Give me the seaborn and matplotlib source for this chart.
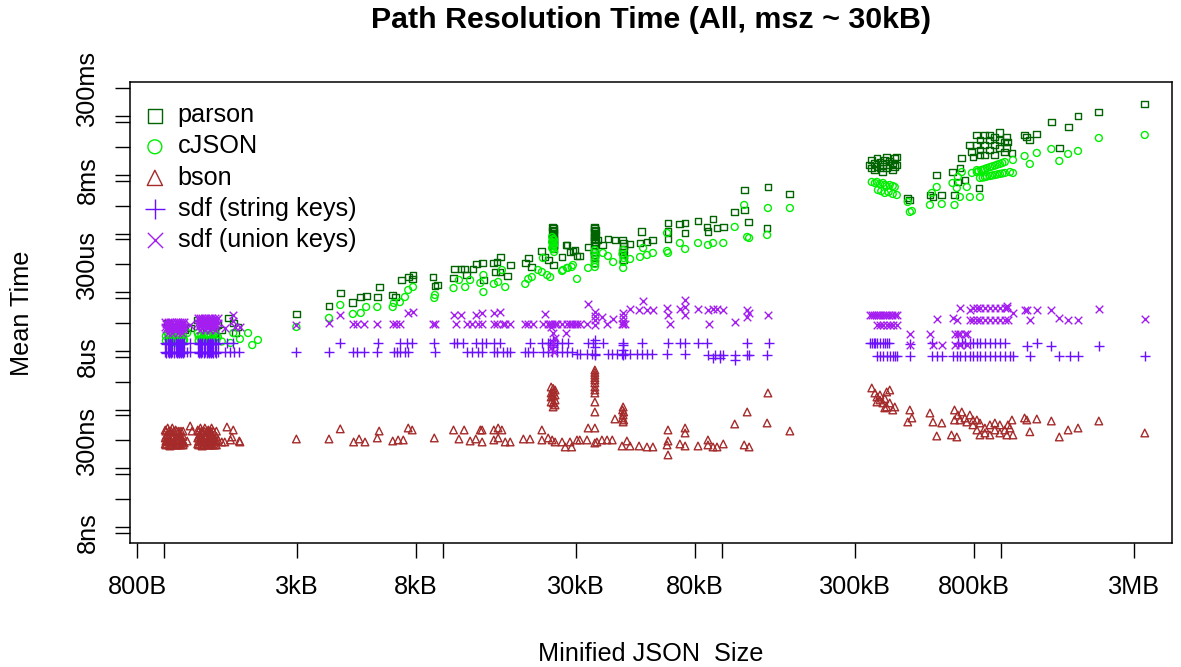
import matplotlib
matplotlib.use("Agg")
import matplotlib.pyplot as plt
import seaborn as sns

# %% Data (size in kB, mean time in microseconds)
parson_kb = [1.03, 1.07, 1.10, 1.14, 1.16, 1.18, 1.21, 1.24, 1.32, 1.37, 1.42, 1.46, 1.52, 1.56, 1.61, 1.70, 1.77, 1.84, 1.80,
             2.98, 3.90, 4.28, 4.75, 5.07, 5.3, 5.81, 5.9, 6.6, 6.77, 7.1, 7.5, 7.75, 7.8, 9.2, 9.35, 9.53,
             10.9, 11.0, 11.6, 11.9, 12.1, 12.8, 13.2, 13.8, 13.95, 15.2, 15.45, 15.6, 16.0, 16.1, 17.0, 17.4,
             19.7, 20.3, 20.8, 22.6, 23.2, 23.8,
             24.6, 24.8, 25.0, 24.6, 24.8, 25.0, 24.6, 24.8, 25.0, 24.8, 24.6, 25.0, 24.8, 24.8, 24.8,
             26.7, 27.6, 27.8, 28.5, 29.2, 29.7, 30.2, 30.9, 33.1,
             34.8, 35.0, 35.2, 34.8, 35.0, 35.2, 35.0, 34.8, 35.0, 35.2, 35.0, 35.0, 35.0, 35.0, 35.0, 35.0,
             35.9, 37.4, 39.0, 41.3, 44.0, 44.2, 44.4, 44.2, 44.0, 44.4, 44.2,
             46.8, 50.8, 51.6, 53.8, 56.5, 64.0, 64.0, 64.0, 70.6, 73.7, 73.7, 82.0, 88.3, 89.0, 92.8, 95.9, 101,
             111, 120, 124, 145, 120, 146, 175,
             338, 344, 344, 353, 353, 359, 359, 368, 368, 377, 377, 383, 389, 389, 399, 399, 409, 409, 416, 416, 423, 423,
             463, 471, 556, 570, 588, 613, 670, 681, 700, 712, 723, 742, 773, 786, 793,
             819, 819, 840, 840, 875, 875, 875, 912, 912, 950, 950, 950, 990, 990, 1031, 1031, 1049, 1049, 840, 912, 990,
             833, 1058, 1094, 1214, 1237, 1268, 1343, 1514, 1617, 1739, 1887, 2241, 3274]
parson_us = [30.0, 24.6, 20.2, 27.7, 27.7, 22.8, 25.6, 24.6, 33.7, 28.8, 24.6, 30.0, 20.2, 27.7, 22.8, 36.5, 30.0, 25.6, 20.2,
             42.7, 58.4, 97, 68, 83, 86.5, 83, 123, 90, 83, 162, 182, 169, 197, 182, 128, 133,
             175, 250, 250, 250, 197, 250, 304, 316, 162, 316, 222, 328, 222, 400, 190, 292,
             316, 384, 270, 506, 400, 355,
             1300, 1250, 1150, 1070, 1025, 948, 876, 810, 779, 720, 692, 640, 615, 547, 292,
             400, 640, 640, 486, 506, 526, 416, 416, 590,
             1300, 1250, 1150, 1070, 1025, 948, 876, 810, 779, 720, 640, 547, 486, 432, 384, 316,
             779, 640, 810, 779, 779, 692, 615, 547, 486, 432, 355,
             666, 692, 1070, 720, 779, 1520, 1070, 810, 1460, 1520, 1025, 1640, 1300, 1070, 1780, 1250, 1300,
             2340, 2530, 1580, 1250, 5540, 6230, 4740,
             14800, 13100, 18000, 12100, 16000, 14000, 19500, 13100, 16600, 11200, 15000, 18000, 13100, 20200, 14800, 17300, 12100, 16000, 14000, 19500, 14800, 20200,
             4050, 3740, 4550, 4210, 9980, 4550, 11200, 4550, 7590, 13100, 19500, 8210, 32400, 24600, 20200,
             48000, 32400, 39400, 26600, 48000, 32400, 21900, 39400, 26600, 44400, 32400, 21900, 39400, 28800, 36400, 24600, 44400, 29600, 21900, 48000, 53000,
             5990, 36400, 23700, 48000, 44400, 39400, 49900, 79900, 28800, 65700, 101000, 118000, 162000]

cjson_kb = [1.03, 1.07, 1.10, 1.14, 1.18, 1.21, 1.32, 1.37, 1.42, 1.46, 1.52, 1.56, 1.61, 1.87, 1.77, 1.73, 2.0, 2.17, 2.07,
            2.98, 3.90, 4.28, 4.75, 5.07, 5.3, 5.81, 6.6, 6.66, 7.0, 7.3, 7.5, 7.8, 9.3, 9.35,
            10.9, 11.4, 12.0, 12.5, 13.6, 13.95, 13.95, 15.2, 15.75, 16.25, 16.7, 19.7, 20.2, 20.8, 21.9, 22.6, 22.8, 23.6, 24.2,
            24.6, 24.8, 25.0, 24.6, 24.8, 25.0, 24.8, 24.6, 24.8, 25.0,
            26.7, 26.9, 27.8, 28.0, 28.9, 29.2, 30.2, 33.1, 35.0, 34.8, 35.2, 35.0, 35.0, 35.0,
            37.4, 39.0, 40.7, 44.2, 44.0, 44.4, 44.2, 44.2, 46.8, 50.8, 52.1, 53.8, 56.5, 63.5, 63.5, 64.0,
            70.6, 73.7, 82.0, 89.0, 92.8, 101, 111, 123, 125, 145, 120, 146, 175,
            344, 353, 359, 368, 377, 383, 389, 399, 409, 416, 362, 372, 383, 395, 409, 423,
            463, 471, 479, 556, 565, 588, 613, 670, 681, 694, 700, 712, 723, 754, 773, 786, 819, 840,
            819, 850, 875, 912, 950, 990, 1031, 830, 860, 890, 930, 970, 1010,
            840, 875, 912, 950, 990, 1031, 1076, 860, 890, 930, 970, 1010,
            1103, 1103, 1214, 1268, 1343, 1514, 1617, 1739, 1887, 2241, 3274]
cjson_us = [20.2, 16.0, 13.7, 18.7, 15.4, 20.2, 20.2, 16.0, 18.7, 15.4, 20.2, 17.3, 14.5, 16.0, 20.2, 13.7, 20.2, 15.4, 12.6,
            25.6, 36.5, 60.8, 42.7, 44.4, 56.2, 56.2, 56.2, 65.7, 68, 83, 109.5, 123, 80, 90,
            118, 162, 123, 162, 144, 197, 101, 139, 150, 240, 123, 139, 169, 182, 240, 222, 384, 197, 182,
            876, 810, 779, 720, 692, 640, 615, 569, 547, 486,
            231, 240, 260, 260, 270, 292, 169, 260, 526, 468, 416, 355, 304, 270,
            468, 416, 328, 526, 450, 384, 328, 260, 369, 400, 569, 432, 468, 1025, 506, 468,
            692, 547, 692, 640, 692, 692, 1300, 876, 843, 948, 3080, 2730, 2730,
            7590, 7290, 7590, 7000, 7290, 6740, 6480, 6740, 6480, 6230, 5540, 5300, 4930, 5100, 4740, 4550,
            3460, 2340, 2430, 3080, 4930, 6230, 3200, 7290, 3080, 5990, 9230, 4210, 11200, 6230, 4210, 10800, 12100, 4210,
            11200, 12100, 12600, 13600, 14400, 15400, 16600, 11600, 12300, 13100, 14000, 15000, 16000,
            8880, 9200, 9600, 9980, 10400, 10800, 11200, 9000, 9400, 9800, 10200, 10600,
            18000, 10800, 21000, 15400, 23700, 27700, 17300, 22800, 25600, 42600, 48000]

bson_kb = [1.01, 1.01, 1.01, 1.03, 1.03, 1.03, 1.05, 1.05, 1.05, 1.07, 1.07, 1.07, 1.10, 1.10, 1.10, 1.12, 1.12, 1.14, 1.14, 1.16, 1.18,
           1.24, 1.26, 1.21,
           1.32, 1.32, 1.32, 1.35, 1.35, 1.35, 1.37, 1.37, 1.37, 1.40, 1.40, 1.40, 1.44, 1.44, 1.44, 1.46, 1.46, 1.48, 1.48, 1.48, 1.52, 1.52, 1.56, 1.61,
           1.68, 1.77, 1.75, 1.73, 1.65, 1.87, 1.86,
           2.98, 3.90, 4.28, 4.78, 5.0, 5.25, 5.81, 5.9, 6.6, 6.9, 7.2, 7.5, 7.75, 9.3, 10.9, 11.4, 11.9, 12.5, 13.1, 13.6,
           13.8, 13.8, 15.2, 15.2, 15.75, 15.75, 16.25, 16.7, 17.4, 19.4, 20.5, 22.6, 22.6, 23.8, 24.6, 25.2, 26.7, 27.4, 28.5, 28.9,
           30.2, 30.9, 32.8, 33.1, 35.0, 35.0, 35.6, 37.1, 38.7, 40.4, 43.8, 45.6, 46.8, 50.4, 53.8, 56.5, 63.5, 64.0, 64.0, 64.0,
           70.6, 73.7, 73.7, 73.7, 82.0, 89.0, 89.0, 92.8, 95.9, 101, 111, 120, 123, 125, 145, 146, 175,
           24.4, 24.8, 25.2, 24.4, 24.8, 25.2, 24.4, 24.8, 25.2, 24.4, 24.8, 25.2, 24.8,
           35.0, 35.0, 35.0, 35.0, 35.0, 35.0, 35.0, 35.0, 35.0, 35.0, 35.0,
           44.2, 44.0, 44.4, 44.2, 44.0, 44.4, 44.2, 41.3,
           344, 353, 359, 368, 377, 383, 389, 399, 409, 416, 359, 368, 383, 389, 399,
           471, 479, 463, 556, 570, 613, 588, 664, 694, 681,
           681, 700, 712, 723, 742, 754, 773, 793,
           793, 819, 819, 840, 840, 875, 875, 912, 912, 950, 950, 990, 990, 1031, 1049, 1058, 1076,
           1094, 1103, 1214, 1237, 1268, 1343, 1514, 1617, 1739, 1887, 2241, 3274]
bson_us = [0.45, 0.329, 0.26, 0.486, 0.37, 0.281, 0.42, 0.304, 0.24, 0.486, 0.355, 0.27, 0.45, 0.316, 0.25, 0.40, 0.292, 0.37, 0.26, 0.304, 0.27,
           0.526, 0.432, 0.292,
           0.45, 0.329, 0.26, 0.486, 0.37, 0.281, 0.42, 0.304, 0.24, 0.486, 0.355, 0.27, 0.45, 0.316, 0.25, 0.40, 0.292, 0.486, 0.37, 0.26, 0.329, 0.25, 0.304, 0.281,
           0.506, 0.45, 0.342, 0.304, 0.281, 0.281, 0.292,
           0.316, 0.316, 0.47, 0.281, 0.316, 0.281, 0.329, 0.432, 0.292, 0.304, 0.304, 0.486, 0.45, 0.329, 0.45, 0.316, 0.45, 0.292, 0.316, 0.45,
           0.45, 0.281, 0.45, 0.304, 0.486, 0.329, 0.45, 0.281, 0.281, 0.316, 0.316, 0.45, 0.304, 0.329, 0.304, 0.281, 0.281, 0.231, 0.281, 0.231,
           0.304, 0.304, 0.304, 0.486, 0.486, 0.27, 0.281, 0.304, 0.304, 0.304, 0.24, 0.292, 0.24, 0.24, 0.231, 0.231, 0.25, 0.292, 0.45, 0.169,
           0.26, 0.486, 0.40, 0.24, 0.24, 0.304, 0.25, 0.231, 0.231, 0.26, 0.569, 0.25, 0.912, 0.231, 0.592, 1.92, 0.432,
           2.43, 2.3, 2.16, 1.92, 2.0, 1.78, 1.64, 1.71, 1.46, 1.35, 1.30, 1.20, 1.11,
           4.74, 4.3, 3.89, 3.5, 3.20, 2.85, 2.43, 2.16, 1.92, 1.35, 0.912,
           1.11, 0.986, 0.912, 0.81, 0.72, 0.666, 0.616, 0.693,
           2.34, 1.92, 1.64, 1.46, 1.30, 1.55, 1.11, 1.30, 0.986, 1.11, 1.35, 1.78, 1.07, 2.0, 2.16,
           0.986, 0.72, 0.616, 0.876, 0.616, 0.592, 0.355, 0.37, 0.342, 0.666,
           0.986, 0.81, 0.666, 0.912, 0.72, 0.616, 0.81, 0.666,
           0.55, 0.45, 0.666, 0.37, 0.592, 0.486, 0.40, 0.55, 0.37, 0.45, 0.592, 0.40, 0.55, 0.45, 0.37, 0.55, 0.486,
           0.666, 0.37, 0.72, 0.666, 0.42, 0.693, 0.64, 0.342, 0.45, 0.486, 0.64, 0.40]

sdf_str_kb = [1.01, 1.03, 1.05, 1.07, 1.10, 1.12, 1.14, 1.16, 1.18, 1.24, 1.32, 1.35, 1.37, 1.40, 1.44, 1.46, 1.48, 1.52, 1.56, 1.68, 1.77,
              1.01, 1.03, 1.05, 1.07, 1.10, 1.12, 1.14, 1.16, 1.18, 1.21, 1.24, 1.32, 1.35, 1.37, 1.40, 1.44, 1.46, 1.48, 1.52, 1.56, 1.65, 1.73, 1.78, 1.86,
              4.28, 5.85, 7.0, 7.44, 7.75, 9.3, 10.9, 11.2, 11.8, 13.1, 13.8, 14.2, 15.2, 16.0, 20.5, 22.6, 23.8, 24.2, 24.8, 25.6, 26.7, 28.0,
              33.1, 34.5, 37.4, 44.2, 51.6, 63.8, 70.6, 73.7, 82.0, 88.3, 123, 147,
              2.98, 3.90, 4.75, 4.92, 5.2, 5.81, 6.66, 6.82, 7.0, 7.3, 7.5, 9.35, 12.2, 12.7, 13.3, 13.8, 15.2, 15.6, 16.4, 17.0, 17.4,
              19.7, 20.2, 21.0, 22.8, 23.8, 24.6, 25.6, 26.7, 27.8, 28.9,
              30.2, 30.9, 32.8, 34.2, 35.0, 39.0, 40.4, 42.0, 43.8, 44.9, 46.8, 49.6, 51.6, 53.8, 56.1, 63.5, 73.7,
              89.0, 94.4, 98.3, 101, 111, 123, 125, 145,
              24.8, 24.8, 24.8, 35.0, 35.0, 35.0, 44.2, 44.2, 44.2, 111, 92.8, 98.3,
              338, 344, 350, 353, 359, 368, 377, 383, 389, 395, 565, 700, 723, 742, 773, 793, 819, 840, 875, 912, 950, 990, 1031,
              1237, 1343, 1514, 2241, 471,
              359, 368, 377, 389, 399, 409, 416, 423, 471, 565, 588, 613, 670, 694, 712, 742, 773, 793, 819, 840, 875, 912, 950, 990,
              1031, 1076, 1103, 1268, 1617, 1760, 1887, 3274]
sdf_str_us = [13.7] * 21 + [9.6] * 24 + [13.7] * 22 + [13.7] * 12 + [9.6] * 31 + [9.0] * 17 + [8.5] * 8 + \
             [12.6, 11.7, 15.4, 15.4, 11.7, 8.5, 12.6, 10.4, 8.5, 7.0, 7.6, 7.6] + \
             [13.7] * 23 + [12.0, 13.7, 12.0, 12.0, 13.0] + [8.2] * 32

sdf_uni_kb = [1.01, 1.03, 1.05, 1.07, 1.10, 1.12, 1.14, 1.16, 1.18, 1.01, 1.03, 1.05, 1.07, 1.10, 1.12, 1.14, 1.16, 1.18,
              1.03, 1.07, 1.12, 1.16,
              1.32, 1.35, 1.37, 1.40, 1.44, 1.46, 1.48, 1.52, 1.56, 1.32, 1.35, 1.37, 1.40, 1.44, 1.46, 1.48, 1.52, 1.56,
              1.35, 1.40, 1.46, 1.52,
              1.77, 1.77, 1.65, 1.87, 1.80, 1.24,
              2.98, 3.90, 4.75, 4.92, 5.2, 5.81, 6.6, 6.77, 7.0, 9.2, 9.35, 11.1, 12.2, 12.7, 13.3, 13.8, 15.2, 15.6, 16.4, 16.7, 17.4,
              19.7, 20.2, 21.0, 22.8, 23.8, 24.2, 24.6, 25.2, 25.6, 26.7, 27.8, 28.5, 28.9, 29.7, 30.2, 30.9, 32.8, 38.7, 43.8, 44.9,
              65.1, 89.8, 111,
              4.28, 7.5, 7.8, 10.9, 11.6, 13.1, 13.8, 15.2, 16.0, 23.1, 33.1, 46.8, 50.4, 52.1, 53.8, 56.5, 63.5, 64.0, 70.6,
              73.7, 73.7, 73.7, 82.0, 89.0, 92.8, 95.9, 101, 123, 125, 123, 146,
              24.4, 24.8, 25.2, 24.8, 24.4, 25.0, 27.6, 35.0, 35.0, 35.0, 35.0, 37.1, 40.7, 44.2, 44.2, 44.2, 44.2,
              338, 344, 350, 356, 362, 368, 377, 383, 389, 395, 405, 416, 423, 359, 368, 377, 389, 399, 409, 423,
              471, 471, 556, 570, 613, 588, 670, 694, 681, 700, 712, 742, 754, 681, 712, 754, 712, 773,
              793, 819, 840, 875, 912, 950, 990, 1031, 1049, 773, 793, 819, 840, 875, 912, 950, 990, 1031, 1058,
              1049, 1103, 1214, 1237, 1268, 1343, 1514, 1617, 1739, 1887, 2241, 3274]
sdf_uni_us = [31.2] * 9 + [25.6] * 9 + [20.2] * 4 + [36.5] * 9 + [30.0] * 9 + [22.8] * 4 + \
             [41.0, 32.4, 24.6, 25.6, 25.6, 27.7] + \
             [27.7, 30.0] + [28.8] * 41 + [31.2] + \
             [41.0, 44.4, 46.2, 41.0, 41.0, 41.0, 44.4, 44.4, 46.2, 42.7, 63.2, 51.9, 49.9, 71, 49.9, 49.9, 54, 41.0, 51.9,
              74, 56.2, 41.0, 51.9, 49.9, 51.9, 51.9, 49.9, 49.9, 44.4, 37.9, 41.0] + \
             [25.6, 20.2, 16.6, 13.7, 11.2, 9.6, 20.2, 46.2, 39.5, 33.7, 27.7, 37.9, 35.1, 44.4, 37.9, 32.4, 28.8] + \
             [41.0] * 13 + [27.7] * 7 + \
             [19.5, 12.6, 19.5, 12.6, 12.6, 35.1, 36.5, 33.7, 19.5, 19.5, 19.5, 19.5, 19.5, 12.6, 12.6, 12.6, 54, 49.9] + \
             [54] * 9 + [33.7] * 10 + \
             [58.4, 44.4, 49.9, 49.9, 33.7, 49.9, 49.9, 36.5, 33.7, 33.7, 51.9, 35.1]

# the two dense groups of small files (~1.0-1.2 kB and ~1.3-1.6 kB) are solid blobs in the chart
blob_kb = [1.015, 1.04, 1.06, 1.085, 1.11, 1.13, 1.15, 1.17, 1.33, 1.36, 1.39, 1.42, 1.45, 1.47, 1.50, 1.54]
bson_blob_us = [0.43] * 16 + [0.35] * 16 + [0.29] * 16 + [0.25] * 16
cjson_blob_us = [18.0] * 16 + [15.0] * 16
sdf_str_blob_us = [13.0] * 16 + [9.2] * 16
sdf_uni_blob_us = [29.0] * 8 + [33.5] * 8 + [23.5] * 8 + [27.0] * 8

bson_kb = bson_kb + blob_kb * 4
bson_us = bson_us + bson_blob_us
cjson_kb = cjson_kb + blob_kb * 2
cjson_us = cjson_us + cjson_blob_us
sdf_str_kb = sdf_str_kb + blob_kb * 2
sdf_str_us = sdf_str_us + sdf_str_blob_us
sdf_uni_kb = sdf_uni_kb + blob_kb * 2
sdf_uni_us = sdf_uni_us + sdf_uni_blob_us

x_ticks = [0.8, 1, 3, 8, 10, 30, 80, 100, 300, 800, 1000, 3000]
x_labels = ["800B", "", "3kB", "8kB", "", "30kB", "80kB", "", "300kB", "800kB", "", "3MB"]
y_ticks = [0.008, 0.01, 0.03, 0.08, 0.1, 0.3, 0.8, 1, 3, 8, 10, 30, 80, 100, 300, 800,
           1000, 3000, 8000, 10000, 30000, 80000, 100000, 300000]
y_named = {0.008: "8ns", 0.3: "300ns", 8: "8us", 300: "300us", 8000: "8ms", 300000: "300ms"}

# %% Style
sns.set_theme(style="ticks")
plt.rcParams['font.family'] = ['Liberation Sans', 'DejaVu Sans']
plt.rcParams['axes.linewidth'] = 1.1
plt.rcParams['text.color'] = 'black'

fig = plt.figure(figsize=(11.81, 6.67), dpi=100)
ax = fig.add_axes([0.1101, 0.1859, 0.8823, 0.6912])

series = [
    ("parson", parson_kb, parson_us, "s", "#006400", 24),
    ("cJSON", cjson_kb, cjson_us, "o", "#00EE00", 25),
    ("bson", bson_kb, bson_us, "^", "#A52A2A", 30),
    ("sdf (string keys)", sdf_str_kb, sdf_str_us, "+", "#6B0FFF", 50),
    ("sdf (union keys)", sdf_uni_kb, sdf_uni_us, "x", "#A51EF0", 30),
]
for name, xs, ys, mk, col, size in series:
    if mk in ("s", "o", "^"):
        sns.scatterplot(x=xs, y=ys, ax=ax, marker=mk, s=size, color=col,
                        facecolor="none", edgecolor=col, linewidth=1.0, label=name)
    else:
        sns.scatterplot(x=xs, y=ys, ax=ax, marker=mk, s=size, color=col,
                        linewidth=1.0, label=name)

ax.set_xscale("log")
ax.set_yscale("log")
ax.set_xlim(0.755, 4100)
ax.set_ylim(0.00533, 384000)

ax.set_xticks(x_ticks)
ax.set_xticklabels(x_labels)
ax.xaxis.set_minor_locator(matplotlib.ticker.NullLocator())
ax.set_yticks(y_ticks)
ax.set_yticklabels([y_named.get(v, "") for v in y_ticks], rotation=90, va="center")
ax.yaxis.set_minor_locator(matplotlib.ticker.NullLocator())
ax.tick_params(axis="both", length=11, width=1.0, color="black", labelsize=18.2, labelcolor="black")
ax.tick_params(axis="x", pad=12)
ax.tick_params(axis="y", pad=11)
for sp in ax.spines.values():
    sp.set_color("black")
    sp.set_linewidth(1.1)

ax.set_xlabel("")
ax.set_ylabel("")
fig.text(0.5512, 1 - 20 / 667, "Path Resolution Time (All, msz ~ 30kB)", ha="center", va="center",
         fontsize=21.9, fontweight="bold", color="black")
fig.text(0.5512, 1 - 654 / 667, "Minified JSON  Size", ha="center", va="center", fontsize=18.2, color="black")
fig.text(22 / 1181, 1 - 313 / 667, "Mean Time", ha="center", va="center", rotation=90, fontsize=18.2,
         color="black")

leg = ax.legend(loc="upper left", bbox_to_anchor=(-0.0077, 0.992), frameon=False, fontsize=18.2,
                markerscale=2.0, handletextpad=0.3, labelspacing=0.28, borderaxespad=0.3,
                handlelength=1.2, scatterpoints=1)
for t in leg.get_texts():
    t.set_color("black")

fig.savefig("out.png", dpi=100)
